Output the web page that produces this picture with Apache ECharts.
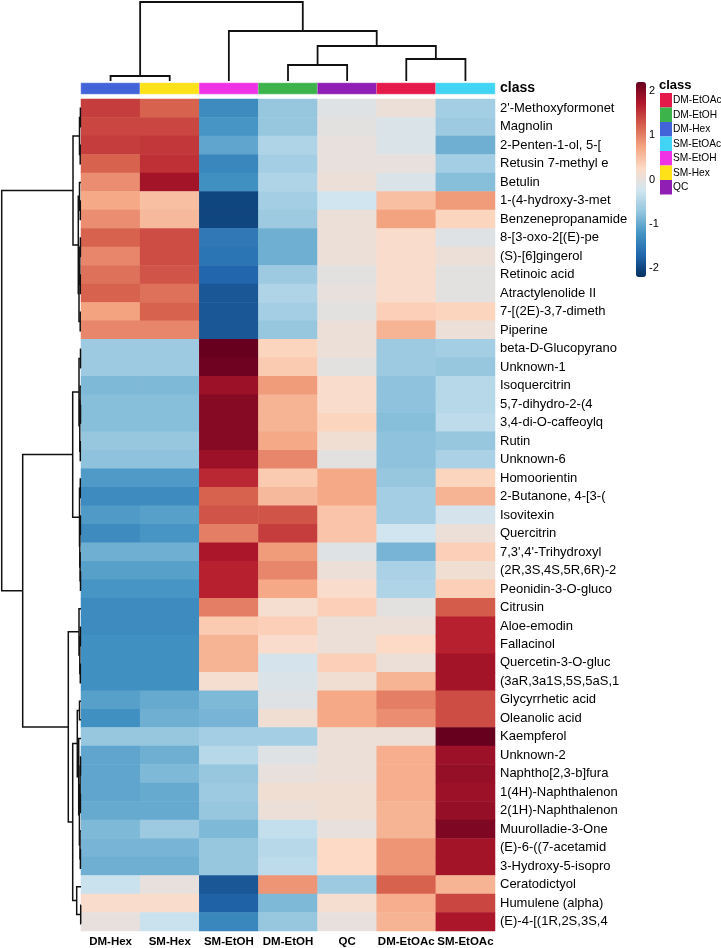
<!DOCTYPE html>
<html><head><meta charset="utf-8">
<script src="https://cdn.jsdelivr.net/npm/echarts@6/dist/echarts.min.js"></script>
<style>html,body{margin:0;padding:0;background:#fff}#c{width:721px;height:948px}</style>
</head><body><div id="c"></div><script>
// ---------- data ----------
const columns = ['DM-Hex','SM-Hex','SM-EtOH','DM-EtOH','QC','DM-EtOAc','SM-EtOAc'];
const rowNames = [
"2'-Methoxyformonet","Magnolin","2-Penten-1-ol, 5-[","Retusin 7-methyl e","Betulin",
"1-(4-hydroxy-3-met","Benzenepropanamide","8-[3-oxo-2[(E)-pe","(S)-[6]gingerol","Retinoic acid",
"Atractylenolide II","7-[(2E)-3,7-dimeth","Piperine","beta-D-Glucopyrano","Unknown-1",
"Isoquercitrin","5,7-dihydro-2-(4","3,4-di-O-caffeoylq","Rutin","Unknown-6",
"Homoorientin","2-Butanone, 4-[3-(","Isovitexin","Quercitrin","7,3',4'-Trihydroxyl",
"(2R,3S,4S,5R,6R)-2","Peonidin-3-O-gluco","Citrusin","Aloe-emodin","Fallacinol",
"Quercetin-3-O-gluc","(3aR,3a1S,5S,5aS,1","Glycyrrhetic acid","Oleanolic acid","Kaempferol",
"Unknown-2","Naphtho[2,3-b]fura","1(4H)-Naphthalenon","2(1H)-Naphthalenon","Muurolladie-3-One",
"(E)-6-((7-acetamid","3-Hydroxy-5-isopro","Ceratodictyol","Humulene (alpha)","(E)-4-[(1R,2S,3S,4"
];
const valDMHex   = [1.45,1.4,1.45,1.2,0.9,0.7,0.9,1.2,0.95,1.1,1.2,0.75,0.95,-0.65,-0.65,-0.85,-0.8,-0.8,-0.7,-0.75,-1.15,-1.3,-1.15,-1.3,-0.95,-1.1,-1.2,-1.3,-1.3,-1.25,-1.25,-1.25,-1.1,-1.25,-0.7,-1.05,-1.05,-1.05,-1.0,-0.85,-0.9,-0.95,-0.3,0.2,0.0];
const valSMHex   = [1.2,1.4,1.5,1.55,1.8,0.5,0.55,1.35,1.35,1.3,1.1,1.2,0.95,-0.65,-0.65,-0.85,-0.8,-0.8,-0.7,-0.75,-1.15,-1.3,-1.1,-1.2,-0.95,-1.1,-1.2,-1.3,-1.3,-1.25,-1.25,-1.25,-1.0,-0.95,-0.7,-0.95,-0.85,-1.0,-1.0,-0.65,-0.9,-0.95,0.0,0.2,-0.3];
const valSMEtOH  = [-1.3,-1.2,-1.05,-1.35,-1.25,-2.0,-2.0,-1.5,-1.55,-1.7,-1.85,-1.85,-1.85,2.2,2.15,1.85,2.0,2.0,2.0,1.85,1.6,1.2,1.3,1.0,1.75,1.65,1.65,1.0,0.4,0.6,0.6,0.15,-0.85,-0.9,-0.6,-0.45,-0.7,-0.65,-0.7,-0.85,-0.7,-0.7,-1.85,-1.75,-1.35];
const valDMEtOH  = [-0.7,-0.7,-0.5,-0.6,-0.5,-0.6,-0.65,-0.95,-0.95,-0.65,-0.5,-0.6,-0.7,0.3,0.4,0.8,0.6,0.6,0.7,0.95,0.4,0.55,1.3,1.45,0.8,0.95,0.7,0.15,0.35,0.2,-0.2,-0.15,-0.1,0.1,-0.6,-0.1,0.0,0.1,0.05,-0.35,-0.45,-0.4,0.85,-0.85,-0.7];
const valQC      = [-0.1,-0.05,0.0,0.0,0.05,-0.25,0.05,0.05,0.05,-0.05,0.0,-0.05,0.05,0.05,-0.05,0.2,0.2,0.3,0.1,-0.05,0.7,0.7,0.45,0.45,-0.1,0.05,0.2,0.35,0.05,0.05,0.35,0.1,0.7,0.7,0.05,0.05,0.05,0.1,0.1,0.0,0.25,0.25,-0.65,0.15,0.0];
const valDMEtOAc = [0.05,-0.15,-0.15,0.0,-0.15,0.5,0.75,0.2,0.2,0.2,0.2,0.35,0.6,-0.65,-0.65,-0.75,-0.75,-0.8,-0.75,-0.75,-0.7,-0.6,-0.6,-0.25,-0.9,-0.55,-0.5,-0.05,0.05,0.25,0.05,0.6,1.0,0.9,0.05,0.65,0.65,0.65,0.6,0.6,0.85,0.85,1.2,0.65,0.6];
const valSMEtOAc = [-0.6,-0.65,-0.95,-0.6,-0.8,0.8,0.3,-0.1,0.05,-0.05,-0.05,0.3,0.05,-0.6,-0.7,-0.45,-0.45,-0.4,-0.7,-0.55,0.3,0.6,-0.2,0.05,0.35,0.1,0.35,1.25,1.65,1.65,1.8,1.8,1.35,1.35,2.2,1.85,1.9,1.85,1.9,2.05,1.8,1.8,0.6,1.4,1.75];
const classNames = ['DM-EtOAc','DM-EtOH','DM-Hex','SM-EtOAc','SM-EtOH','SM-Hex','QC'];
const classColors = ['#e6194b','#3cb44b','#4363d8','#42d4f4','#f032e6','#ffe119','#911eb4'];
const colorbarTicks = [-2,-1,0,1,2];
// dendrograms: node = [height, left, right]; leaf = index
const colTree = [79, [5,0,1], [50, 2, [35,[16,3,4],[22,5,6]]]];
const rowTree = [79.3,
  [8, [1.5,[0.6,0,1],[0.8,2,3]], [2.7,[1.5,4,[0.7,5,6]],[2,[1.2,[0.6,7,8],[0.7,9,10]],[0.8,11,12]]]],
  [58.3,
    [8.3, [2,[0.5,13,14],[1.2,[0.9,15,[0.5,16,17]],[0.7,18,19]]], [1.5,[0.7,20,21],[1.2,[0.6,22,23],[0.9,24,[0.5,25,26]]]]],
    [12.7, [2,27,[1.2,[0.6,28,29],[0.7,30,31]]],
           [8.3, [3.7,[1.5,32,33],[2.3,34,[1.6,[0.9,[0.5,35,36],[0.6,37,38]],[1.0,39,[0.6,40,41]]]]],
                 [4.3,42,[0.3,43,44]]]]
  ]
];
// ---------- build ----------
const colVals = [valDMHex,valSMHex,valSMEtOH,valDMEtOH,valQC,valDMEtOAc,valSMEtOAc];
const heatData = [];
colVals.forEach((arr,c)=>arr.forEach((v,r)=>heatData.push([c,r,v])));
const classData = columns.map((n,c)=>[c,0,classNames.indexOf(n)]);

function walk(node, out, rowMode){
  if (typeof node === 'number') return {p: node+0.5, h: 0};
  const a = walk(node[1], out, rowMode), b = walk(node[2], out, rowMode), h = node[0];
  const pts = [[a.p,a.h],[a.p,h],[b.p,h],[b.p,b.h]];
  out.push({coords: rowMode ? pts.map(q=>[q[1],q[0]]) : pts});
  return {p:(a.p+b.p)/2, h:h};
}
const colLines=[], rowLines=[];
walk(colTree, colLines, false);
walk(rowTree, rowLines, true);

const FONT = 'Liberation Sans, Arial, sans-serif';
const hidden = {show:false};
const chart = echarts.init(document.getElementById('c'), null, {renderer:'canvas'});
chart.setOption({
  animation:false,
  backgroundColor:'#fff',
  textStyle:{fontFamily:FONT, color:'#000'},
  title:[{text:'class', left:659, top:79, padding:0, textStyle:{fontSize:13, fontWeight:'bold', color:'#000', fontFamily:FONT}}],
  grid:[
    {left:81, top:99, width:414, height:834},
    {left:81, top:83, width:414, height:11},
    {left:81, top:0, width:414, height:81},
    {left:0, top:99, width:81, height:834},
    {left:636, top:82, width:10, height:195}
  ],
  xAxis:[
    {type:'category', gridIndex:0, data:columns, position:'bottom',
     axisLine:hidden, axisTick:hidden, splitLine:hidden,
     axisLabel:{interval:0, margin:5, fontSize:11.5, fontWeight:'bold', color:'#000', fontFamily:FONT}},
    {type:'category', gridIndex:1, data:columns, show:false},
    {type:'value', gridIndex:2, min:0, max:7, show:false},
    {type:'value', gridIndex:3, min:0, max:81, inverse:true, show:false},
    {type:'value', gridIndex:4, min:0, max:1, show:false}
  ],
  yAxis:[
    {type:'category', gridIndex:0, data:rowNames, inverse:true, position:'right',
     axisLine:hidden, axisTick:hidden, splitLine:hidden,
     axisLabel:{interval:0, margin:5, fontSize:13, color:'#000', fontFamily:FONT}},
    {type:'category', gridIndex:1, data:['class'], position:'right',
     axisLine:hidden, axisTick:hidden,
     axisLabel:{margin:5, fontSize:14, fontWeight:'bold', color:'#000', fontFamily:FONT}},
    {type:'value', gridIndex:2, min:0, max:81, show:false},
    {type:'value', gridIndex:3, min:0, max:45, inverse:true, show:false},
    {type:'value', gridIndex:4, min:-2.2, max:2.2, position:'right',
     axisLine:hidden, axisTick:hidden, splitLine:hidden,
     axisLabel:{customValues:colorbarTicks, margin:3, fontSize:11, color:'#000', fontFamily:FONT}}
  ],
  visualMap:[
    {type:'continuous', seriesIndex:0, dimension:2, min:-2.2, max:2.2,
     left:636, top:82, itemWidth:10, itemHeight:195, padding:0, calculable:false,
     text:null, showLabel:false, hoverLink:false,
     inRange:{color:['#053061','#2166ac','#4393c3','#92c5de','#d1e5f0','#fddbc7','#f4a582','#d6604d','#b2182b','#67001f']}},
    {type:'piecewise', seriesIndex:1, dimension:2, left:660, top:93, orient:'vertical',
     align:'left', inverse:true,
     itemWidth:12, itemHeight:14.5, itemGap:0, textGap:1, padding:0, itemSymbol:'rect',
     selectedMode:false, hoverLink:false,
     textStyle:{fontSize:10.2, color:'#000', fontFamily:FONT},
     pieces:classNames.map((n,i)=>({value:i, label:n, color:classColors[i]}))}
  ],
  series:[
    {type:'heatmap', xAxisIndex:0, yAxisIndex:0, data:heatData, emphasis:{disabled:true}, itemStyle:{borderWidth:0}},
    {type:'heatmap', xAxisIndex:1, yAxisIndex:1, data:classData, emphasis:{disabled:true},
     itemStyle:{borderWidth:0.6, borderColor:'rgba(255,255,255,0.5)'}},
    {type:'lines', coordinateSystem:'cartesian2d', xAxisIndex:2, yAxisIndex:2, polyline:true, silent:true,
     data:colLines, lineStyle:{color:'#111', width:1.8, opacity:1}},
    {type:'lines', coordinateSystem:'cartesian2d', xAxisIndex:3, yAxisIndex:3, polyline:true, silent:true,
     data:rowLines, lineStyle:{color:'#111', width:1.5, opacity:1}}
  ]
});
</script></body></html>
